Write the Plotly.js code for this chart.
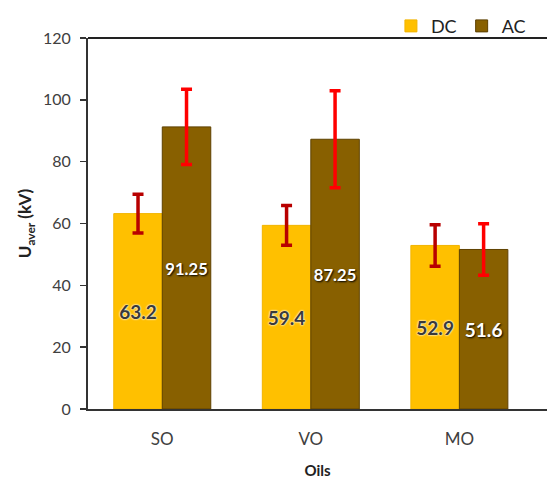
<!DOCTYPE html>
<html>
<head>
<meta charset="utf-8">
<script src="https://cdn.plot.ly/plotly-3.0.1.min.js"></script>
<style>html,body{margin:0;padding:0;background:#fff;}</style>
</head>
<body>
<div id="chart" style="width:547px;height:479px;"></div>
<script>
// Average breakdown voltage per oil, DC vs AC
const oils = ['SO', 'VO', 'MO'];
const dcValues = [63.2, 59.4, 52.9];
const acValues = [91.25, 87.25, 51.6];
const dcErrors = [6.3, 6.4, 6.7];
const acErrors = [12.2, 15.7, 8.3];
const yTicks = [0, 20, 40, 60, 80, 100, 120];

const fontFamily = 'Lato, "Open Sans", sans-serif';

const traces = [
  {
    type: 'bar', name: 'DC', x: oils, y: dcValues,
    marker: { color: '#FFC000', line: { color: '#F2B400', width: 1 } },
    error_y: { type: 'data', array: dcErrors, visible: true, color: '#B80000', thickness: 3.5, width: 5.5 },
    text: dcValues.map(String), textposition: 'inside', insidetextanchor: 'middle',
    textangle: 0,
    textfont: { family: fontFamily, size: 19, color: '#3a3a3a', weight: 'bold',
                shadow: '0 0 2px #fff, 0 0 2px #fff' },
    hoverinfo: 'none'
  },
  {
    type: 'bar', name: 'AC', x: oils, y: acValues,
    marker: { color: '#886000', line: { color: '#5E4100', width: 1 } },
    error_y: { type: 'data', array: acErrors, visible: true, color: '#FF0000', thickness: 3.5, width: 5.5 },
    text: acValues.map(String), textposition: 'inside', insidetextanchor: 'middle',
    textangle: 0,
    textfont: { family: fontFamily, size: 19, color: '#ffffff', weight: 'bold',
                shadow: '1px 1px 2px #000' },
    hoverinfo: 'none'
  }
];

const layout = {
  width: 547, height: 479,
  margin: { l: 88, r: 0, t: 38, b: 70 },
  paper_bgcolor: '#ffffff', plot_bgcolor: '#ffffff',
  font: { family: fontFamily, color: '#404040' },
  barmode: 'group', bargap: 0.347, bargroupgap: 0,
  showlegend: true,
  legend: {
    orientation: 'h', x: 0.965, xanchor: 'right', y: 0.982, yanchor: 'bottom',
    font: { family: fontFamily, size: 18, color: '#222' },
    itemwidth: 30, tracegroupgap: 0, bgcolor: 'rgba(0,0,0,0)'
  },
  xaxis: {
    range: [-0.5, 2.59],
    showline: true, linecolor: '#333', linewidth: 2,
    ticks: '', showgrid: false, zeroline: false,
    ticklabelstandoff: 14,
    tickfont: { family: fontFamily, size: 17, color: '#404040' },
    title: { text: 'Oils', font: { family: fontFamily, size: 15, color: '#222', weight: 'bold' }, standoff: 18 }
  },
  yaxis: {
    range: [0, 120], tickvals: yTicks, ticktext: yTicks.map(String),
    showline: true, linecolor: '#333', linewidth: 2,
    ticks: 'outside', ticklen: 6, tickwidth: 1.5, tickcolor: '#333',
    ticklabelstandoff: 6,
    showgrid: false, zeroline: false,
    tickfont: { family: fontFamily, size: 16, color: '#404040' },
    title: { text: 'U<sub>aver</sub> (kV)', font: { family: fontFamily, size: 17, color: '#222', weight: 'bold' }, standoff: 7 }
  },
  shapes: [
    { type: 'line', xref: 'paper', yref: 'paper', x0: 0, x1: 1, y0: 1, y1: 1,
      line: { color: '#222', width: 2 } }
  ]
};

Plotly.newPlot('chart', traces, layout, { displayModeBar: false, staticPlot: true });
</script>
</body>
</html>
